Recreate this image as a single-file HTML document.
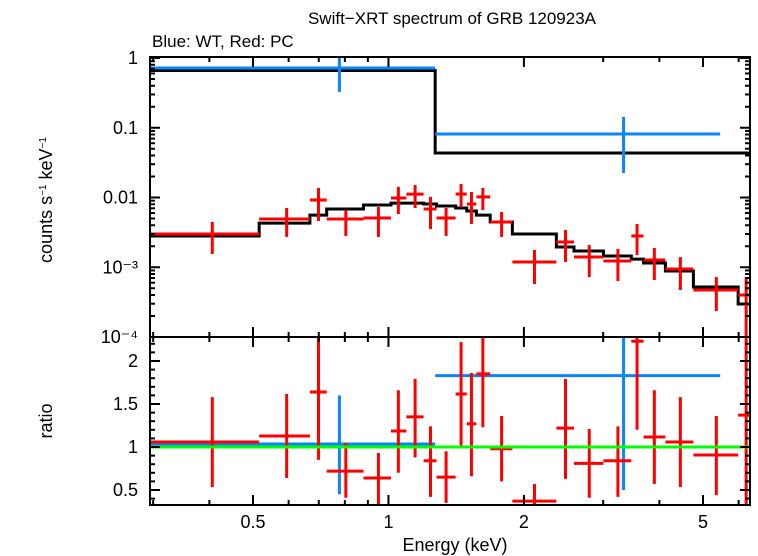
<!DOCTYPE html>
<html><head><meta charset="utf-8"><style>
body{margin:0;background:#fff}
svg{display:block;font-family:"Liberation Sans",sans-serif}
</style></head><body>
<svg id="chart" width="758" height="556" viewBox="0 0 758 556" xmlns="http://www.w3.org/2000/svg">
<text x="452" y="24" font-size="17" text-anchor="middle">Swift−XRT spectrum of GRB 120923A</text>
<text x="152" y="47" font-size="17">Blue: WT, Red: PC</text>
<text x="455" y="551" font-size="18" text-anchor="middle">Energy (keV)</text>
<text transform="translate(52,200) rotate(-90)" font-size="18" text-anchor="middle">counts s<tspan font-size="10" dy="-6">−1</tspan><tspan dy="6"> keV</tspan><tspan font-size="10" dy="-6">−1</tspan></text>
<text transform="translate(52,421) rotate(-90)" font-size="18" text-anchor="middle">ratio</text>
<g id="g"></g>
</svg>
<script>
// PC data bins (keV)
const pcLo=[0.2951,0.516,0.669,0.729,0.880,1.013,1.096,1.197,1.279,1.410,1.493,1.568,1.683,1.885,2.361,2.584,3.004,3.465,3.689,4.125,4.760,5.985];
const pcHi=[0.516,0.669,0.729,0.880,1.013,1.096,1.197,1.279,1.410,1.493,1.568,1.683,1.885,2.361,2.584,3.004,3.465,3.689,4.125,4.760,5.985,7.0];
const pcE=[0.406,0.594,0.699,0.804,0.950,1.052,1.146,1.240,1.343,1.450,1.529,1.621,1.784,2.111,2.474,2.794,3.235,3.568,3.898,4.453,5.353,6.235];
const pcRate=[3.0e-3,4.92e-3,9.2e-3,4.92e-3,5.08e-3,9.84e-3,1.12e-2,6.84e-3,5.08e-3,1.12e-2,8.07e-3,1.02e-2,4.46e-3,1.19e-3,2.3e-3,1.4e-3,1.23e-3,2.81e-3,1.27e-3,9.44e-4,4.72e-4,4.0e-4];
const pcRateHi=[4.46e-3,7.07e-3,1.37e-2,6.62e-3,7.3e-3,1.42e-2,1.51e-2,1.02e-2,7.07e-3,1.56e-2,1.2e-2,1.37e-2,6.2e-3,1.77e-3,3.42e-3,2.08e-3,1.83e-3,4.17e-3,1.89e-3,1.4e-3,7.24e-4,7.24e-4];
const pcRateLo=[1.55e-3,2.72e-3,4.6e-3,2.81e-3,2.72e-3,5.8e-3,7.07e-3,3.53e-3,2.81e-3,7.3e-3,4.17e-3,6.62e-3,2.72e-3,5.75e-4,1.19e-3,7.24e-4,6.35e-4,1.5e-3,6.56e-4,4.72e-4,2.36e-4,5e-5];
const pcModel=[2.81e-3,4.3e-3,5.6e-3,6.84e-3,7.8e-3,8.3e-3,8.3e-3,8.07e-3,7.55e-3,7.07e-3,6.4e-3,5.6e-3,4.46e-3,3.0e-3,1.95e-3,1.71e-3,1.45e-3,1.31e-3,1.15e-3,8.83e-4,5.21e-4,2.97e-4];
const pcRatio=[1.058,1.128,1.64,0.72,0.64,1.186,1.35,0.84,0.65,1.616,1.27,1.85,0.98,0.37,1.22,0.81,0.84,2.23,1.116,1.058,0.907,1.37];
const pcRatioHi=[1.58,1.616,2.4,1.05,0.93,1.66,1.79,1.24,0.95,2.22,1.86,2.4,1.36,0.57,1.79,1.21,1.24,2.4,1.66,1.58,1.36,2.4];
const pcRatioLo=[0.535,0.64,0.85,0.41,0.30,0.70,0.88,0.42,0.35,1.01,0.66,1.23,0.60,0.30,0.63,0.41,0.42,1.20,0.57,0.535,0.44,0.30];
// WT data
const wtLo=[0.2951,1.27];
const wtHi=[1.27,5.46];
const wtE=[0.778,3.33];
const wtRate=[0.719,0.0814];
const wtRateHi=[1.2,0.143];
const wtRateLo=[0.326,0.0225];
const wtModel=[0.662,0.0434];
const wtModelHi=[1.27,7.0];
const wtRatio=[1.035,1.83];
const wtRatioHi=[1.6,2.4];
const wtRatioLo=[0.45,0.5];
const xTicks=[0.5,1,2,5];
const xMinor=[0.3,0.4,0.6,0.7,0.8,0.9,3,4,6];
const topTicks=[1,0.1,0.01,1e-3,1e-4];
const topTickLabels=["1","0.1","0.01","10⁻³","10⁻⁴"];
const ratioTicks=[0.5,1,1.5,2];

const L=150,R=750,T1=57,B1=337,B2=505;
const X=e=>253+450*Math.log10(e/0.5);
const Y1=v=>58-69.75*Math.log10(v);
const Y2=r=>447-86*(r-1);
const g=document.getElementById('g');
const NS='http://www.w3.org/2000/svg';
function el(tag,attrs,name,parent){const e=document.createElementNS(NS,tag);for(const k in attrs)e.setAttribute(k,attrs[k]);


(parent||g).appendChild(e);return e;}
function ln(x1,y1,x2,y2,c,w,name,p){return el('line',{x1,y1,x2,y2,stroke:c,'stroke-width':w},name,p);}
const defs=el('defs',{},'defs');
const c1=el('clipPath',{id:'c1'},'clip-top',defs);el('rect',{x:L,y:T1,width:R-L,height:B1-T1},'clip-rect',c1);
const c2=el('clipPath',{id:'c2'},'clip-bottom',defs);el('rect',{x:L,y:B1,width:R-L,height:B2-B1},'clip-rect',c2);
const topG=el('g',{'clip-path':'url(#c1)'},'top-panel-plot');
const botG=el('g',{'clip-path':'url(#c2)'},'bottom-panel-plot');
function step(lo,hi,m,name){let d='';for(let i=0;i<m.length;i++){d+=(i?'L':'M')+X(lo[i])+','+Y1(m[i])+'L'+X(hi[i])+','+Y1(m[i]);}
el('path',{d,fill:'none',stroke:'#000','stroke-width':3},name,topG);}
step(pcLo,pcHi,pcModel,'pc-model-line');
step(wtLo,wtModelHi,wtModel,'wt-model-line');
function pts(lo,hi,e,v,vh,vl,Y,c,name,p){for(let i=0;i<v.length;i++){
ln(X(lo[i]),Y(v[i]),X(hi[i]),Y(v[i]),c,3,name+'-xerr',p);
ln(X(e[i]),Y(vh[i]),X(e[i]),Y(vl[i]),c,3,name+'-yerr',p);}}
pts(wtLo,wtHi,wtE,wtRate,wtRateHi,wtRateLo,Y1,'#0a84ff','wt-point',topG);
pts(pcLo,pcHi,pcE,pcRate,pcRateHi,pcRateLo,Y1,'#ff0000','pc-point',topG);
pts(wtLo,wtHi,wtE,wtRatio,wtRatioHi,wtRatioLo,Y2,'#0a84ff','wt-ratio',botG);
pts(pcLo,pcHi,pcE,pcRatio,pcRatioHi,pcRatioLo,Y2,'#ff0000','pc-ratio',botG);
ln(L,Y2(1),R,Y2(1),'#00ff00',3,'unity-line',botG);
el('rect',{x:L,y:T1,width:R-L,height:B2-T1,fill:'none',stroke:'#000','stroke-width':2},'plot-frame');
ln(L,B1,R,B1,'#000',2,'panel-divider');
for(const t of xTicks){const x=X(t);
for(const [y,d] of [[T1,1],[B1,-1],[B1,1],[B2,-1]]) ln(x,y,x,y+d*10,'#000',2,'x-major-tick');
el('text',{x,y:528,'font-size':18,'text-anchor':'middle'},'x-tick-label').textContent=t;}
for(const t of xMinor){const x=X(t);
for(const [y,d] of [[T1,1],[B1,-1],[B1,1],[B2,-1]]) ln(x,y,x,y+d*5,'#000',2,'x-minor-tick');}
topTicks.forEach((t,i)=>{const y=Y1(t);ln(L,y,L+10,y,'#000',2,'y-major-tick');ln(R,y,R-10,y,'#000',2,'y-major-tick');
el('text',{x:138,y:y+6,'font-size':18,'text-anchor':'end'},'y-tick-label').textContent=topTickLabels[i];
if(i<4)for(let k=2;k<10;k++){const yy=Y1(t/10*k);ln(L,yy,L+5,yy,'#000',2,'y-minor-tick');ln(R,yy,R-5,yy,'#000',2,'y-minor-tick');}});
for(const t of ratioTicks){const y=Y2(t);ln(L,y,L+10,y,'#000',2,'ratio-major-tick');ln(R,y,R-10,y,'#000',2,'ratio-major-tick');
el('text',{x:138,y:y+6,'font-size':18,'text-anchor':'end'},'ratio-tick-label').textContent=t;}
for(let r=0.4;r<2.3;r+=0.1){const y=Y2(r);ln(L,y,L+5,y,'#000',2,'ratio-minor-tick');ln(R,y,R-5,y,'#000',2,'ratio-minor-tick');}
</script>
</body></html>
